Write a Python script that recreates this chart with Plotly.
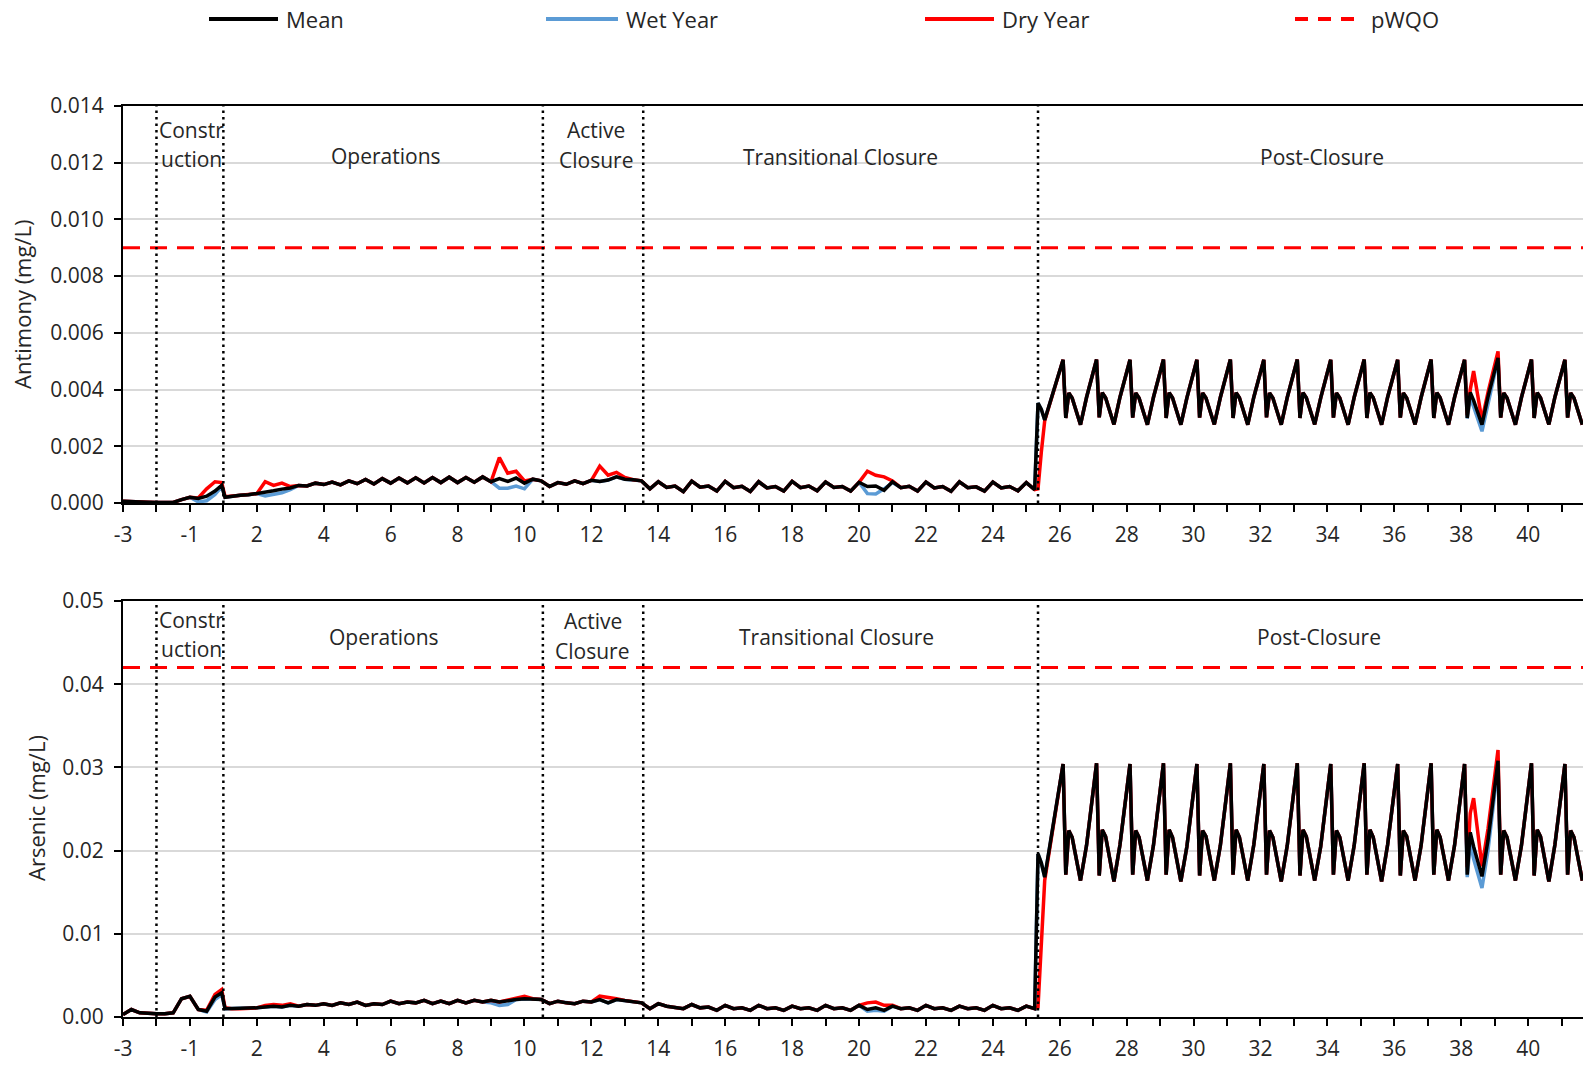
import plotly.graph_objects as go

# ---------------- data ----------------
# x position = years since start of model year -3 (no year 0 on the axis)
YEAR_POS = [
    0, .25, .5, .75, 1, 1.25, 1.5, 1.75, 2, 2.25, 2.5, 2.75, 2.95, 3.05,
    3.25, 3.5, 3.75, 4, 4.25, 4.5, 4.75, 5, 5.25, 5.5, 5.75, 6,
    6.25, 6.5, 6.75, 7, 7.25, 7.5, 7.75, 8, 8.25, 8.5, 8.75, 9,
    9.25, 9.5, 9.75, 10, 10.25, 10.5, 10.75, 11, 11.25, 11.5, 11.75, 12,
    12.25, 12.5, 12.75, 13, 13.25, 13.5, 13.75, 14, 14.25, 14.5, 14.75, 15,
    15.25, 15.5, 15.75, 16, 16.25, 16.5, 16.75, 17, 17.25, 17.5, 17.75, 18,
    18.25, 18.5, 18.75, 19, 19.25, 19.5, 19.75, 20, 20.25, 20.5, 20.75, 21,
    21.25, 21.5, 21.75, 22, 22.25, 22.5, 22.75, 23, 23.25, 23.5, 23.75, 24,
    24.25, 24.5, 24.75, 25, 25.25, 25.5, 25.75, 26, 26.25, 26.5, 26.75, 27,
    27.25, 27.35, 27.45, 27.55,
    28.1, 28.18, 28.27, 28.37, 28.62, 28.8,
    29.1, 29.18, 29.27, 29.37, 29.62, 29.8,
    30.1, 30.18, 30.27, 30.37, 30.62, 30.8,
    31.1, 31.18, 31.27, 31.37, 31.62, 31.8,
    32.1, 32.18, 32.27, 32.37, 32.62, 32.8,
    33.1, 33.18, 33.27, 33.37, 33.62, 33.8,
    34.1, 34.18, 34.27, 34.37, 34.62, 34.8,
    35.1, 35.18, 35.27, 35.37, 35.62, 35.8,
    36.1, 36.18, 36.27, 36.37, 36.62, 36.8,
    37.1, 37.18, 37.27, 37.37, 37.62, 37.8,
    38.1, 38.18, 38.27, 38.37, 38.62, 38.8,
    39.1, 39.18, 39.27, 39.37, 39.62, 39.8,
    40.1, 40.18, 40.27, 40.37, 40.62, 40.8,
    41.1, 41.18, 41.27, 41.37, 41.62, 41.8,
    42.1, 42.18, 42.27, 42.37, 42.62, 42.8,
    43.1, 43.18, 43.27, 43.37, 43.62,
]

SB_MEAN = [
    .00006, .00006, .00004, .00003, .00002, .00001, .00002, .00012, .00020, .00016, .00024, .00042, .00062, .00020,
    .00024, .00027, .00029, .00033, .00036, .00043, .00049, .00053, .00062, .00060, .00070, .00065,
    .00074, .00064, .00078, .00068, .00083, .00067, .00086, .00070, .00088, .00071, .00089, .00071,
    .00090, .00072, .00091, .00072, .00090, .00073, .00092, .00075, .00086, .00076, .00088, .00070,
    .00084, .00078, .00058, .00072, .00066, .00078, .00068, .00080, .00076, .00081, .00092, .00084,
    .00082, .00078, .00050, .00075, .00055, .00060, .00040, .00077, .00056, .00060, .00042, .00076,
    .00054, .00059, .00041, .00075, .00053, .00058, .00042, .00076, .00054, .00060, .00043, .00074,
    .00055, .00058, .00042, .00073, .00058, .00060, .00045, .00075, .00054, .00059, .00042, .00074,
    .00053, .00058, .00041, .00075, .00054, .00057, .00042, .00074, .00053, .00058, .00043, .00072,
    .00047, .00352, .00330, .00293,
    .00505, .00300, .00388, .00370, .00276, .00372,
    .00506, .00302, .00389, .00371, .00277, .00373,
    .00505, .00301, .00388, .00370, .00276, .00372,
    .00506, .00300, .00389, .00371, .00276, .00371,
    .00505, .00301, .00388, .00370, .00277, .00372,
    .00506, .00300, .00389, .00371, .00276, .00373,
    .00505, .00302, .00388, .00370, .00276, .00372,
    .00506, .00300, .00389, .00371, .00277, .00371,
    .00505, .00301, .00388, .00370, .00276, .00372,
    .00506, .00300, .00389, .00371, .00276, .00373,
    .00505, .00301, .00388, .00370, .00277, .00372,
    .00506, .00300, .00389, .00371, .00276, .00372,
    .00505, .00300, .00390, .00362, .00276, .00374,
    .00512, .00301, .00388, .00370, .00276, .00372,
    .00506, .00300, .00389, .00371, .00277, .00373,
    .00505, .00301, .00388, .00370, .00276,
]

SB_WET = [
    .00006, .00006, .00004, .00003, .00002, .00001, .00002, .00012, .00020, .00004, .00008, .00030, .00058, .00020,
    .00024, .00027, .00029, .00033, .00025, .00030, .00036, .00047, .00062, .00060, .00070, .00065,
    .00074, .00064, .00078, .00068, .00083, .00067, .00086, .00070, .00088, .00071, .00089, .00071,
    .00090, .00072, .00091, .00072, .00090, .00073, .00092, .00075, .00052, .00052, .00060, .00050,
    .00084, .00078, .00058, .00072, .00066, .00078, .00068, .00080, .00076, .00081, .00092, .00084,
    .00082, .00078, .00050, .00075, .00055, .00060, .00040, .00077, .00056, .00060, .00042, .00076,
    .00054, .00059, .00041, .00075, .00053, .00058, .00042, .00076, .00054, .00060, .00043, .00074,
    .00055, .00058, .00042, .00073, .00033, .00032, .00050, .00072, .00054, .00059, .00042, .00074,
    .00053, .00058, .00041, .00075, .00054, .00057, .00042, .00074, .00053, .00058, .00043, .00072,
    .00047, .00352, .00330, .00293,
    .00505, .00300, .00388, .00370, .00276, .00372,
    .00506, .00302, .00389, .00371, .00277, .00373,
    .00505, .00301, .00388, .00370, .00276, .00372,
    .00506, .00300, .00389, .00371, .00276, .00371,
    .00505, .00301, .00388, .00370, .00277, .00372,
    .00506, .00300, .00389, .00371, .00276, .00373,
    .00505, .00302, .00388, .00370, .00276, .00372,
    .00506, .00300, .00389, .00371, .00277, .00371,
    .00505, .00301, .00388, .00370, .00276, .00372,
    .00506, .00300, .00389, .00371, .00276, .00373,
    .00505, .00301, .00388, .00370, .00277, .00372,
    .00506, .00300, .00389, .00371, .00276, .00372,
    .00505, .00298, .00370, .00340, .00253, .00352,
    .00508, .00301, .00388, .00370, .00276, .00372,
    .00506, .00300, .00389, .00371, .00277, .00373,
    .00505, .00301, .00388, .00370, .00276,
]

SB_DRY = [
    .00006, .00006, .00004, .00003, .00002, .00001, .00002, .00012, .00020, .00018, .00050, .00075, .00072, .00022,
    .00024, .00027, .00029, .00033, .00075, .00062, .00070, .00058, .00062, .00060, .00070, .00065,
    .00074, .00064, .00078, .00068, .00083, .00067, .00086, .00070, .00088, .00071, .00089, .00071,
    .00090, .00072, .00091, .00072, .00090, .00073, .00092, .00075, .00160, .00105, .00112, .00078,
    .00084, .00078, .00058, .00072, .00066, .00078, .00068, .00080, .00130, .00098, .00108, .00090,
    .00082, .00078, .00050, .00075, .00055, .00060, .00040, .00077, .00056, .00060, .00042, .00076,
    .00054, .00059, .00041, .00075, .00053, .00058, .00042, .00076, .00054, .00060, .00043, .00074,
    .00055, .00058, .00042, .00073, .00112, .00098, .00092, .00078, .00054, .00059, .00042, .00074,
    .00053, .00058, .00041, .00075, .00054, .00057, .00042, .00074, .00053, .00058, .00043, .00072,
    .00047, .00050, .00180, .00290,
    .00505, .00300, .00388, .00370, .00276, .00372,
    .00506, .00302, .00389, .00371, .00277, .00373,
    .00505, .00301, .00388, .00370, .00276, .00372,
    .00506, .00300, .00389, .00371, .00276, .00371,
    .00505, .00301, .00388, .00370, .00277, .00372,
    .00506, .00300, .00389, .00371, .00276, .00373,
    .00505, .00302, .00388, .00370, .00276, .00372,
    .00506, .00300, .00389, .00371, .00277, .00371,
    .00505, .00301, .00388, .00370, .00276, .00372,
    .00506, .00300, .00389, .00371, .00276, .00373,
    .00505, .00301, .00388, .00370, .00277, .00372,
    .00506, .00300, .00389, .00371, .00276, .00372,
    .00505, .00310, .00400, .00465, .00292, .00390,
    .00535, .00301, .00388, .00370, .00276, .00372,
    .00506, .00300, .00389, .00371, .00277, .00373,
    .00505, .00301, .00388, .00370, .00276,
]

AS_MEAN = [
    .0003, .0009, .0005, .0004, .0004, .0004, .0005, .0022, .0025, .0009, .0007, .0024, .0029, .0010,
    .0010, .0010, .0011, .0011, .0012, .0013, .0012, .0014, .0013, .0015, .0014, .0016,
    .0014, .0017, .0015, .0018, .0014, .0016, .0015, .0019, .0016, .0018, .0017, .0020,
    .0016, .0019, .0016, .0020, .0017, .0020, .0018, .0020, .0018, .0020, .0021, .0022,
    .0022, .0021, .0016, .0019, .0017, .0016, .0019, .0018, .0021, .0017, .0021, .0020,
    .0018, .0017, .0010, .0016, .0013, .0012, .0010, .0015, .0011, .0012, .0008, .0014,
    .0010, .0011, .0008, .0014, .0010, .0011, .0008, .0013, .0010, .0011, .0008, .0014,
    .0010, .0011, .0008, .0014, .0009, .0011, .0008, .0013, .0010, .0011, .0008, .0014,
    .0010, .0011, .0008, .0013, .0010, .0011, .0008, .0014, .0010, .0011, .0008, .0013,
    .0010, .0196, .0185, .0168,
    .0304, .0171, .0224, .0216, .0164, .0206,
    .0305, .0170, .0225, .0217, .0163, .0207,
    .0304, .0171, .0224, .0216, .0164, .0206,
    .0305, .0171, .0225, .0216, .0163, .0205,
    .0304, .0170, .0224, .0217, .0164, .0206,
    .0305, .0171, .0225, .0216, .0164, .0207,
    .0304, .0171, .0224, .0216, .0163, .0206,
    .0305, .0170, .0225, .0217, .0164, .0205,
    .0304, .0171, .0224, .0216, .0164, .0206,
    .0305, .0171, .0225, .0216, .0163, .0207,
    .0304, .0170, .0224, .0217, .0164, .0206,
    .0305, .0171, .0225, .0216, .0164, .0206,
    .0304, .0171, .0222, .0205, .0169, .0212,
    .0308, .0171, .0224, .0216, .0164, .0206,
    .0305, .0170, .0225, .0217, .0163, .0207,
    .0304, .0171, .0224, .0216, .0164,
]

AS_WET = [
    .0003, .0009, .0005, .0004, .0004, .0004, .0005, .0022, .0025, .0009, .0006, .0021, .0027, .0010,
    .0010, .0010, .0011, .0011, .0012, .0013, .0012, .0014, .0013, .0015, .0014, .0016,
    .0014, .0017, .0015, .0018, .0014, .0016, .0015, .0019, .0016, .0018, .0017, .0020,
    .0016, .0019, .0016, .0020, .0017, .0020, .0018, .0017, .0014, .0015, .0021, .0022,
    .0022, .0021, .0016, .0019, .0017, .0016, .0019, .0018, .0021, .0017, .0021, .0020,
    .0018, .0017, .0010, .0016, .0013, .0012, .0010, .0015, .0011, .0012, .0008, .0014,
    .0010, .0011, .0008, .0014, .0010, .0011, .0008, .0013, .0010, .0011, .0008, .0014,
    .0010, .0011, .0008, .0014, .0007, .0008, .0007, .0013, .0010, .0011, .0008, .0014,
    .0010, .0011, .0008, .0013, .0010, .0011, .0008, .0014, .0010, .0011, .0008, .0013,
    .0010, .0196, .0185, .0168,
    .0304, .0171, .0224, .0216, .0164, .0206,
    .0305, .0170, .0225, .0217, .0163, .0207,
    .0304, .0171, .0224, .0216, .0164, .0206,
    .0305, .0171, .0225, .0216, .0163, .0205,
    .0304, .0170, .0224, .0217, .0164, .0206,
    .0305, .0171, .0225, .0216, .0164, .0207,
    .0304, .0171, .0224, .0216, .0163, .0206,
    .0305, .0170, .0225, .0217, .0164, .0205,
    .0304, .0171, .0224, .0216, .0164, .0206,
    .0305, .0171, .0225, .0216, .0163, .0207,
    .0304, .0170, .0224, .0217, .0164, .0206,
    .0305, .0171, .0225, .0216, .0164, .0206,
    .0304, .0168, .0210, .0190, .0155, .0200,
    .0302, .0171, .0224, .0216, .0164, .0206,
    .0305, .0170, .0225, .0217, .0163, .0207,
    .0304, .0171, .0224, .0216, .0164,
]

AS_DRY = [
    .0003, .0009, .0005, .0004, .0004, .0004, .0005, .0022, .0025, .0009, .0008, .0027, .0033, .0011,
    .0010, .0010, .0011, .0011, .0014, .0015, .0014, .0016, .0013, .0015, .0014, .0016,
    .0014, .0017, .0015, .0018, .0014, .0016, .0015, .0019, .0016, .0018, .0017, .0020,
    .0016, .0019, .0016, .0020, .0017, .0020, .0018, .0020, .0018, .0020, .0023, .0025,
    .0022, .0021, .0016, .0019, .0017, .0016, .0019, .0018, .0025, .0024, .0022, .0020,
    .0018, .0017, .0010, .0016, .0013, .0012, .0010, .0015, .0011, .0012, .0008, .0014,
    .0010, .0011, .0008, .0014, .0010, .0011, .0008, .0013, .0010, .0011, .0008, .0014,
    .0010, .0011, .0008, .0014, .0017, .0018, .0014, .0014, .0010, .0011, .0008, .0014,
    .0010, .0011, .0008, .0013, .0010, .0011, .0008, .0014, .0010, .0011, .0008, .0013,
    .0010, .0012, .0090, .0164,
    .0304, .0171, .0224, .0216, .0164, .0206,
    .0305, .0170, .0225, .0217, .0163, .0207,
    .0304, .0171, .0224, .0216, .0164, .0206,
    .0305, .0171, .0225, .0216, .0163, .0205,
    .0304, .0170, .0224, .0217, .0164, .0206,
    .0305, .0171, .0225, .0216, .0164, .0207,
    .0304, .0171, .0224, .0216, .0163, .0206,
    .0305, .0170, .0225, .0217, .0164, .0205,
    .0304, .0171, .0224, .0216, .0164, .0206,
    .0305, .0171, .0225, .0216, .0163, .0207,
    .0304, .0170, .0224, .0217, .0164, .0206,
    .0305, .0171, .0225, .0216, .0164, .0206,
    .0304, .0180, .0245, .0263, .0181, .0226,
    .0321, .0171, .0224, .0216, .0164, .0206,
    .0305, .0170, .0225, .0217, .0163, .0207,
    .0304, .0171, .0224, .0216, .0164,
]

PWQO_SB = 0.009
PWQO_AS = 0.042
PHASE_BOUNDS = [1, 3, 12.55, 15.55, 27.35]
TICK_LABELS = ['-3', '-1', '2', '4', '6', '8', '10', '12', '14', '16', '18', '20',
               '22', '24', '26', '28', '30', '32', '34', '36', '38', '40']
X_MAX = 43.64

for arr in (SB_MEAN, SB_WET, SB_DRY, AS_MEAN, AS_WET, AS_DRY):
    assert len(arr) == len(YEAR_POS), len(arr)

# ---------------- layout helpers ----------------
W, H = 1583, 1065
ML = 123
PW = W - ML
FONT = "Open Sans"
TXT = "#262626"
WET_C = "#5B9BD5"
DRY_C = "#FF0000"


def px_x(px):
    return (px - ML) / PW


def px_y(py):
    return 1 - py / H


fig = go.Figure()

panels = [
    ("x", "y", SB_WET, SB_DRY, SB_MEAN, PWQO_SB),
    ("x2", "y2", AS_WET, AS_DRY, AS_MEAN, PWQO_AS),
]
for xa, ya, wet, dry, mean, pw in panels:
    fig.add_trace(go.Scatter(x=[0, X_MAX], y=[pw, pw], mode="lines", xaxis=xa, yaxis=ya,
                             line=dict(color=DRY_C, width=3, dash="17px,10px"),
                             name="pWQO", showlegend=False, hoverinfo="skip"))
    fig.add_trace(go.Scatter(x=YEAR_POS, y=wet, mode="lines", xaxis=xa, yaxis=ya,
                             line=dict(color=WET_C, width=3.5), name="Wet Year", showlegend=False))
    fig.add_trace(go.Scatter(x=YEAR_POS, y=dry, mode="lines", xaxis=xa, yaxis=ya,
                             line=dict(color=DRY_C, width=3.5), name="Dry Year", showlegend=False))
    fig.add_trace(go.Scatter(x=YEAR_POS, y=mean, mode="lines", xaxis=xa, yaxis=ya,
                             line=dict(color="black", width=3.5), name="Mean", showlegend=False))

tickvals = list(range(0, 44))
ticktext = [TICK_LABELS[i // 2] if i % 2 == 0 else "" for i in tickvals]

xcommon = dict(range=[0, X_MAX], tickvals=tickvals, ticktext=ticktext, showgrid=False,
               zeroline=False, showline=True, linecolor="black", linewidth=2, mirror=True,
               ticks="outside", ticklen=7, tickwidth=2, tickcolor="black", automargin=False,
               tickfont=dict(family=FONT, size=21, color=TXT), ticklabelstandoff=5,
               domain=[0, 1])
ycommon = dict(showgrid=True, gridcolor="#D9D9D9", gridwidth=1.5, zeroline=False,
               showline=True, linecolor="black", linewidth=2, mirror=False, automargin=False,
               ticks="outside", ticklen=7, tickwidth=1.5, tickcolor="black",
               tickfont=dict(family=FONT, size=21, color=TXT), ticklabelstandoff=6)

top_dom = [px_y(503), px_y(106)]
bot_dom = [px_y(1017), px_y(601)]

fig.update_layout(
    width=W, height=H,
    margin=dict(l=ML, r=0, t=0, b=0, pad=0, autoexpand=False),
    paper_bgcolor="white", plot_bgcolor="white",
    showlegend=False,
    font=dict(family=FONT, color=TXT),
    xaxis=dict(anchor="y", **xcommon),
    yaxis=dict(anchor="x", domain=top_dom, range=[0, 0.014],
               tickvals=[0, .002, .004, .006, .008, .010, .012, .014], tickformat=".3f", **ycommon),
    xaxis2=dict(anchor="y2", **xcommon),
    yaxis2=dict(anchor="x2", domain=bot_dom, range=[0, 0.05],
                tickvals=[0, .01, .02, .03, .04, .05], tickformat=".2f", **ycommon),
)

shapes = []
for xr, yr in (("x", "y domain"), ("x2", "y2 domain")):
    for b in PHASE_BOUNDS:
        shapes.append(dict(type="line", xref=xr, yref=yr, x0=b, x1=b, y0=0, y1=1,
                           line=dict(color="black", width=2.5, dash="2.5px,4px"), layer="above"))

# legend (drawn manually to match spacing)
LEG_Y = 19
legend_items = [
    ("Mean", 209, 278, dict(color="black", width=4)),
    ("Wet Year", 546, 618, dict(color=WET_C, width=4)),
    ("Dry Year", 925, 994, dict(color=DRY_C, width=4)),
    ("pWQO", 1295, 1363, dict(color=DRY_C, width=4, dash="13px,10px")),
]
annotations = []
for label, x0, x1, ln in legend_items:
    shapes.append(dict(type="line", xref="paper", yref="paper", x0=px_x(x0), x1=px_x(x1),
                       y0=px_y(LEG_Y), y1=px_y(LEG_Y), line=ln))
    annotations.append(dict(text=label, xref="paper", yref="paper", x=px_x(x1 + 6), y=px_y(LEG_Y),
                            xanchor="left", yanchor="middle", showarrow=False,
                            font=dict(family=FONT, size=22, color=TXT)))

phase_labels = [
    ("Constr", 191, 130), ("uction", 191, 159), ("Operations", 386, 156),
    ("Active", 596, 130), ("Closure", 596, 160), ("Transitional Closure", 840, 157),
    ("Post-Closure", 1322, 157),
    ("Constr", 191, 620), ("uction", 191, 649), ("Operations", 384, 637),
    ("Active", 593, 621), ("Closure", 592, 651), ("Transitional Closure", 836, 637),
    ("Post-Closure", 1319, 637),
]
for t, px, py in phase_labels:
    annotations.append(dict(text=t, xref="paper", yref="paper", x=px_x(px), y=px_y(py),
                            xanchor="center", yanchor="middle", showarrow=False,
                            font=dict(family=FONT, size=21, color=TXT)))

for t, px, py in (("Antimony (mg/L)", 22, 305), ("Arsenic (mg/L)", 36, 808)):
    annotations.append(dict(text=t, xref="paper", yref="paper", x=px_x(px), y=px_y(py),
                            xanchor="center", yanchor="middle", showarrow=False, textangle=-90,
                            font=dict(family=FONT, size=22, color=TXT)))

fig.update_layout(shapes=shapes, annotations=annotations)

fig.write_html("out.html")
